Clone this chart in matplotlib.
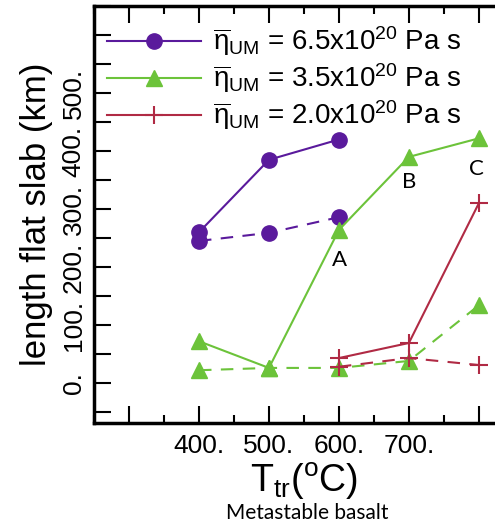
import matplotlib
matplotlib.use("Agg")
import matplotlib.pyplot as plt
from matplotlib.ticker import FixedLocator, FixedFormatter, MultipleLocator

plt.rcParams["font.family"] = ["Liberation Sans", "DejaVu Sans"]
plt.rcParams["mathtext.fontset"] = "custom"
plt.rcParams["mathtext.rm"] = "Liberation Sans"
plt.rcParams["mathtext.it"] = "Liberation Sans"

# transition temperature (C)
t_purple = [400, 500, 600]
t_green = [400, 500, 600, 700, 800]
t_red = [600, 700, 800]

# length of flat slab (km), solid / dashed runs
purple_solid = [260, 385, 420]
purple_dash = [245, 259, 286]
green_solid = [72, 26, 264, 390, 422]
green_dash = [22, 26, 26, 38, 134]
red_solid = [43, 69, 310]
red_dash = [28, 43, 31]

labels = [r"$\overline{\eta}_{\mathrm{UM}}$ = 6.5x10$^{20}$ Pa s",
          r"$\overline{\eta}_{\mathrm{UM}}$ = 3.5x10$^{20}$ Pa s",
          r"$\overline{\eta}_{\mathrm{UM}}$ = 2.0x10$^{20}$ Pa s"]
notes = ["A", "B", "C"]
note_pos = [(601, 212), (701, 347), (796, 369)]

c_purple = "#5a1a9c"
c_green = "#6cc33a"
c_red = "#b02a44"

fig = plt.figure(figsize=(4.95, 5.31), dpi=100)
ax = fig.add_axes([0.19, 0.2034, 0.848, 0.785])

dash = (6, 4.5)
ax.plot(t_purple, purple_solid, "-o", c=c_purple, lw=1.5, ms=11, label=labels[0])
ax.plot(t_purple, purple_dash, "--o", c=c_purple, lw=1.5, ms=11, dashes=dash)
ax.plot(t_green, green_solid, "-^", c=c_green, lw=1.5, ms=12, label=labels[1])
ax.plot(t_green, green_dash, "--^", c=c_green, lw=1.5, ms=12, dashes=dash)
ax.plot(t_red, red_solid, "-+", c=c_red, lw=1.5, ms=13, mew=1.5, label=labels[2])
ax.plot(t_red, red_dash, "--+", c=c_red, lw=1.5, ms=13, mew=1.5, dashes=dash)

for s, (x, y) in zip(notes, note_pos):
    ax.text(x, y, s, fontsize=16, family=["Lato", "DejaVu Sans"], ha="center", va="center")

ax.set_xlim(250, 850)
ax.set_ylim(-69, 650)

ax.xaxis.set_major_locator(FixedLocator([300, 400, 500, 600, 700, 800]))
ax.xaxis.set_major_formatter(FixedFormatter(["", "400.", "500.", "600.", "700.", ""]))
ax.xaxis.set_minor_locator(MultipleLocator(50))
ylabs = {0: "0.", 100: "100.", 200: "200.", 300: "300.", 400: "400.", 500: "500."}
yt = list(range(-50, 651, 50))
ax.yaxis.set_major_locator(FixedLocator(yt))
ax.yaxis.set_major_formatter(FixedFormatter([ylabs.get(v, "") for v in yt]))

ax.tick_params(axis="both", which="major", direction="in", top=True, length=12, width=1.5,
               labelsize=19, pad=8)
ax.tick_params(axis="x", which="minor", direction="in", top=True, length=6, width=1.5)
ax.tick_params(axis="y", which="major", pad=6)
for lab in ax.get_yticklabels():
    lab.set_rotation(90)
    lab.set_va("center")

for side in ["left", "bottom", "top"]:
    ax.spines[side].set_linewidth(2.5)
ax.spines["right"].set_visible(False)

ax.set_ylabel("length flat slab (km)", fontsize=25, labelpad=6)
ax.set_xlabel(r"T$_{\mathrm{tr}}$($^{\mathrm{o}}$C)", fontsize=27, labelpad=2)

ax.legend(loc="upper left", bbox_to_anchor=(-0.01, 0.995), frameon=False, fontsize=20,
          handlelength=3.4, handletextpad=0.45, labelspacing=0.12, borderaxespad=0.2)

fig.text(0.62, 0.034, "Metastable basalt", fontsize=15, family=["Lato", "DejaVu Sans"],
         ha="center", va="center")

fig.savefig("out.png", dpi=100)
